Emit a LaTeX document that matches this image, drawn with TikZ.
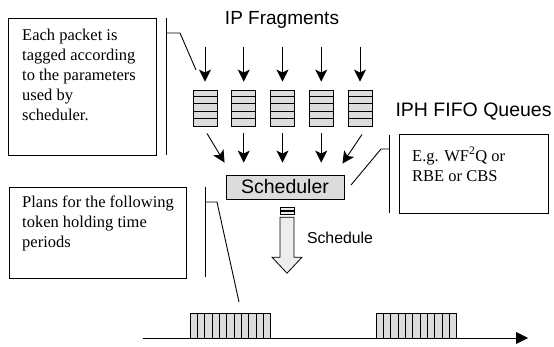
\documentclass[tikz,border=0pt]{standalone}
\usepackage{fontspec}
\setmainfont{Liberation Serif}
\newfontfamily\arialfont{Liberation Sans}
\usetikzlibrary{arrows.meta,calc}
\definecolor{qgray}{HTML}{DCDCDC}
\definecolor{pgray}{HTML}{EDEDED}
\tikzset{
  note/.style={draw, rectangle, line width=0.9pt, anchor=north west, inner sep=0pt},
  notetext/.style={anchor=north west, align=left, inner sep=0pt,
    font=\fontsize{16.5}{20}\selectfont},
  queue/.style={draw, fill=qgray, line width=0.9pt, minimum width=24pt, minimum height=36pt, inner sep=0pt},
  arr/.style={-{Stealth[length=12pt,width=12pt,inset=3pt]}, line width=0.9pt},
  bracket/.style={line width=0.9pt},
}
\begin{document}
\begin{tikzpicture}[x=1pt, y=-1pt]
\useasboundingbox (0,0) rectangle (554,347);
\node[font=\arialfont\fontsize{19}{22}\selectfont] (frag) at (282,20) {IP Fragments};
\node[font=\arialfont\fontsize{19.5}{22}\selectfont, anchor=west] (fifo) at (392,112) {IPH FIFO Queues};
\foreach \i in {0,...,4} {
  \node[queue] (q\i) at (205+38.75*\i,108) {};
  \foreach \r in {1,...,4} \draw[line width=0.9pt]
    ($(q\i.north west)+(0,7.2*\r)$) -- ($(q\i.north east)+(0,7.2*\r)$);
  \coordinate (f\i) at (205+38.75*\i,47);
  \draw[arr, shorten >=8pt] (f\i) -- (q\i);
}
\node[draw, fill=qgray, line width=0.9pt, minimum width=118pt, minimum height=24pt, inner sep=0pt,
  font=\arialfont\fontsize{19.5}{22}\selectfont] (sched) at (285,187) {Scheduler};
\draw[arr] ($(q0.south)+(2,7)$) -- ($(sched.north west)+(-1,-12)$);
\foreach \i in {1,2,3} \draw[arr, shorten <=7pt, shorten >=12pt] (q\i.south) -- (q\i.south |- sched.north);
\draw[arr] ($(q4.south)+(2,8)$) -- ($(sched.north east)+(-2,-11)$);
% schedule arrow
\coordinate (sa) at (287,207.7);
\draw[fill=pgray, line width=0.8pt] ($(sa)+(-7,0)$) rectangle ($(sa)+(7,3)$);
\draw[fill=pgray, line width=0.8pt] ($(sa)+(-7,3.7)$) rectangle ($(sa)+(7,6.7)$);
\draw[fill=pgray, line width=0.8pt] ($(sa)+(-7,9.5)$) -- ($(sa)+(-7,49.5)$) -- ($(sa)+(-15,49.5)$)
  -- ($(sa)+(0,65.5)$) -- ($(sa)+(15,49.5)$) -- ($(sa)+(7,49.5)$) -- ($(sa)+(7,9.5)$) -- cycle;
\node[font=\arialfont\fontsize{15.8}{18}\selectfont] (slabel) at (340,238) {Schedule};
% notes
\node[note, minimum width=148pt, minimum height=137pt] (tagbox) at (8,18) {};
\node[notetext] (tagtext) at (22,28.5) {Each packet is\\tagged according\\to the parameters\\used by\\scheduler.};
\draw[bracket] (166,18) -- (166,155);
\coordinate (tagtip) at (196,70);
\draw[bracket] (166,33) -- (180,33) -- (tagtip);
\node[note, minimum width=149pt, minimum height=79pt] (algbox) at (399,134) {};
\node[notetext] (algtext) at (412,147) {E.g. WF\textsuperscript{2}Q or\\RBE or CBS};
\draw[bracket] (389,135) -- (389,213);
\coordinate (algtip) at (351,185);
\draw[bracket] (389,149) -- (381,149) -- (algtip);
\node[note, minimum width=177pt, minimum height=91pt] (planbox) at (9,187) {};
\node[notetext] (plantext) at (22,195.5) {Plans for the following\\token holding time\\periods};
\draw[bracket] (205,187) -- (205,277);
\coordinate (plantip) at (239,302);
\draw[bracket] (205,202) -- (217,202) -- (plantip);
% time line
\coordinate (t0) at (143,338);
\coordinate (t1) at (528,338);
\draw[-{Triangle[length=12pt,width=12pt]}, line width=0.9pt] (t0) -- (t1);
\foreach \bx in {190,376} \foreach \c in {0,...,10}
  \draw[fill=qgray, line width=0.8pt] (\bx+7.35*\c,313) rectangle ++(7.35,25);
\end{tikzpicture}
\end{document}
